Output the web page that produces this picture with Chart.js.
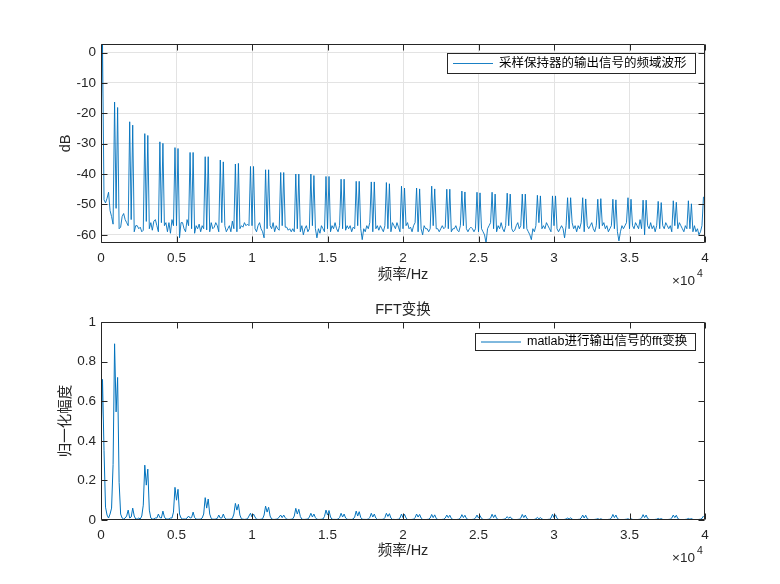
<!DOCTYPE html>
<html><head><meta charset="utf-8">
<script src="https://cdn.jsdelivr.net/npm/chart.js@4/dist/chart.umd.min.js"></script>
<style>
html,body{margin:0;padding:0;background:#fff;}
#wrap{position:relative;width:780px;height:584px;background:#fff;}
.c{position:absolute;left:0;width:780px;height:292px;}
</style></head><body>
<div id="wrap">
<div class="c" style="top:0"><canvas id="c1" width="780" height="292"></canvas></div>
<div class="c" style="top:292px"><canvas id="c2" width="780" height="292"></canvas></div>
</div>
<script>
// ---------- data ----------
const freqStepHz = 100;   // spacing of the spectrum samples
const spectrumDB = [
 -25, 2.8, -48.5, -49.5, -48, -46, -52, -54, -56.5, -16.3,
 -51.3, -18.1, -58, -57.5, -54, -53, -55, -56, -57, -22.8,
 -55, -23.9, -59, -57, -57, -58, -57.5, -59, -58.5, -26.7,
 -55.6, -27.3, -58, -56, -58.5, -55.5, -55, -57, -59, -29.4,
 -56, -29.9, -57, -56, -59, -56, -59.5, -55, -57, -31.3,
 -57, -31.6, -61, -56, -56, -58, -59, -55, -57, -32.9,
 -58, -32.9, -59.5, -57, -58, -56.5, -59, -57, -58, -34.3,
 -58.4, -34.3, -59, -56, -58, -57.5, -56, -57, -59, -35.4,
 -56, -36, -57, -59, -58, -57, -59, -55.5, -58, -36.7,
 -59, -36.5, -58, -57, -57.5, -56, -57, -56.5, -57, -37.5,
 -57, -37.5, -58, -59, -57, -56, -58, -59, -61, -38.6,
 -58, -38.6, -57, -58, -56, -59, -57, -58, -58.5, -39.5,
 -57, -39.5, -57.5, -57.5, -58.5, -58, -59, -58, -59, -40,
 -58, -40, -59, -57, -60, -58, -57, -59, -58, -40,
 -57, -40.5, -58, -61, -58, -59.5, -57, -58, -59, -40.8,
 -58, -40.8, -59, -57, -58, -56, -58, -59, -57, -41.7,
 -58, -41.7, -58.5, -57, -58, -57, -59, -57.5, -58, -42.4,
 -57, -42.4, -58, -61.6, -58, -59, -57, -58, -56, -42.6,
 -59, -42.6, -58, -57, -58.5, -57, -58, -59, -57, -42.8,
 -58, -43.2, -59, -56, -57, -58, -56, -57.5, -59, -44,
 -58, -44.6, -57, -56, -58, -57.5, -59, -57, -56, -44.6,
 -59, -44.9, -58, -60, -57, -58, -58, -59, -58, -44,
 -57, -44.9, -58, -58, -59, -58, -57, -58, -57.5, -45,
 -58, -45, -59, -58, -58, -57, -58.5, -59, -57, -45.6,
 -57, -45.9, -58, -59, -58, -57.5, -58, -59, -58, -46,
 -59, -46.2, -58, -59, -60, -62.7, -58, -57, -56, -46,
 -58, -46.6, -59, -57, -58, -56, -58, -59, -57, -46.3,
 -57, -46.6, -58, -59, -58.5, -57, -56, -58, -57, -46.6,
 -58, -46.6, -58, -59, -60, -61.6, -58, -59, -57, -47,
 -56, -47.2, -58, -57, -58, -56, -57, -58, -59, -47.2,
 -57, -47.2, -58, -59, -58, -57, -58, -61, -57, -47.8,
 -58, -47.8, -56, -58, -57, -59, -57, -58, -56, -47.8,
 -59, -48.2, -57, -58, -57, -56, -58, -59, -57, -48.3,
 -58, -48.1, -57, -56, -58, -57, -59, -58, -57, -48.3,
 -58, -48.5, -59, -62, -59, -57, -58, -57, -56, -47.8,
 -58, -48.3, -57, -58, -56, -57, -58, -55, -58, -48.6,
 -60, -48.6, -57, -58, -56, -58, -57, -59, -57, -49,
 -58, -49.4, -57, -58, -56, -57, -58, -57, -59, -48.8,
 -57, -49.3, -58, -56, -57, -58, -59, -57, -58, -48.8,
 -58, -49.8, -59, -57, -59, -58, -60, -59, -57, -47.5
];
const fftAmplitude = [
 0.40, 0.71, 0.35, 0.065, 0.025, 0.01, 0.03, 0.06, 0.28, 0.89,
 0.546, 0.72, 0.19, 0.03, 0.01, 0.005, 0.01, 0.02, 0.05, 0.01,
 0.015, 0.06, 0.02, 0.005, 0.005, 0.01, 0.005, 0.02, 0.075, 0.277,
 0.176, 0.257, 0.05, 0.01, 0.005, 0.005, 0.01, 0.01, 0.03, 0.012,
 0.01, 0.045, 0.015, 0.005, 0.005, 0.005, 0.01, 0.01, 0.04, 0.165,
 0.10, 0.155, 0.03, 0.01, 0.005, 0.005, 0.005, 0.01, 0.02, 0.01,
 0.012, 0.04, 0.012, 0.005, 0.004, 0.004, 0.005, 0.01, 0.03, 0.113,
 0.06, 0.106, 0.03, 0.008, 0.004, 0.004, 0.005, 0.008, 0.025, 0.01,
 0.01, 0.03, 0.01, 0.004, 0.004, 0.004, 0.005, 0.008, 0.03, 0.084,
 0.05, 0.079, 0.025, 0.006, 0.004, 0.003, 0.004, 0.006, 0.02, 0.034,
 0.015, 0.03, 0.015, 0.004, 0.003, 0.003, 0.004, 0.006, 0.025, 0.07,
 0.04, 0.064, 0.02, 0.005, 0.003, 0.003, 0.004, 0.006, 0.015, 0.025,
 0.012, 0.025, 0.012, 0.004, 0.003, 0.003, 0.004, 0.006, 0.02, 0.059,
 0.03, 0.054, 0.018, 0.004, 0.003, 0.003, 0.004, 0.005, 0.015, 0.034,
 0.015, 0.03, 0.012, 0.004, 0.003, 0.003, 0.004, 0.005, 0.018, 0.05,
 0.025, 0.048, 0.015, 0.004, 0.003, 0.003, 0.003, 0.005, 0.012, 0.034,
 0.015, 0.03, 0.01, 0.004, 0.003, 0.003, 0.003, 0.005, 0.015, 0.045,
 0.02, 0.042, 0.013, 0.004, 0.003, 0.003, 0.003, 0.005, 0.012, 0.034,
 0.015, 0.03, 0.01, 0.003, 0.003, 0.003, 0.003, 0.004, 0.012, 0.034,
 0.018, 0.032, 0.01, 0.003, 0.003, 0.002, 0.003, 0.004, 0.01, 0.03,
 0.012, 0.029, 0.01, 0.003, 0.002, 0.002, 0.003, 0.004, 0.012, 0.03,
 0.015, 0.028, 0.01, 0.003, 0.002, 0.002, 0.003, 0.004, 0.01, 0.028,
 0.012, 0.026, 0.008, 0.003, 0.002, 0.002, 0.003, 0.004, 0.01, 0.025,
 0.012, 0.024, 0.008, 0.003, 0.002, 0.002, 0.003, 0.004, 0.01, 0.027,
 0.012, 0.024, 0.008, 0.003, 0.002, 0.002, 0.003, 0.004, 0.01, 0.025,
 0.01, 0.022, 0.008, 0.003, 0.002, 0.002, 0.003, 0.004, 0.01, 0.029,
 0.012, 0.026, 0.008, 0.003, 0.002, 0.002, 0.003, 0.004, 0.008, 0.017,
 0.008, 0.016, 0.006, 0.003, 0.002, 0.002, 0.003, 0.004, 0.01, 0.028,
 0.012, 0.025, 0.008, 0.003, 0.002, 0.002, 0.002, 0.003, 0.006, 0.013,
 0.006, 0.012, 0.005, 0.002, 0.002, 0.002, 0.003, 0.004, 0.01, 0.029,
 0.012, 0.026, 0.008, 0.003, 0.002, 0.002, 0.002, 0.003, 0.005, 0.01,
 0.005, 0.011, 0.004, 0.002, 0.002, 0.002, 0.003, 0.004, 0.01, 0.025,
 0.01, 0.024, 0.007, 0.003, 0.002, 0.002, 0.002, 0.003, 0.004, 0.007,
 0.003, 0.006, 0.003, 0.002, 0.002, 0.002, 0.003, 0.004, 0.01, 0.028,
 0.012, 0.025, 0.008, 0.003, 0.002, 0.002, 0.002, 0.003, 0.004, 0.006,
 0.003, 0.006, 0.003, 0.002, 0.002, 0.002, 0.003, 0.004, 0.01, 0.027,
 0.012, 0.025, 0.008, 0.003, 0.002, 0.002, 0.002, 0.003, 0.004, 0.008,
 0.004, 0.007, 0.003, 0.002, 0.002, 0.002, 0.003, 0.004, 0.01, 0.025,
 0.012, 0.024, 0.007, 0.003, 0.002, 0.002, 0.002, 0.003, 0.004, 0.008,
 0.004, 0.007, 0.003, 0.002, 0.002, 0.002, 0.003, 0.004, 0.008, 0.02
];
const xTickValues = [0, 5000, 10000, 15000, 20000, 25000, 30000, 35000, 40000];
const xTickLabels = ['0', '0.5', '1', '1.5', '2', '2.5', '3', '3.5', '4'];
const yTicksTop = [-60, -50, -40, -30, -20, -10, 0];
const yTickLabelsTop = ['-60', '-50', '-40', '-30', '-20', '-10', '0'];
const yTicksBottom = [0, 0.2, 0.4, 0.6, 0.8, 1];
const yTickLabelsBottom = ['0', '0.2', '0.4', '0.6', '0.8', '1'];
const topLegend = '采样保持器的输出信号的频域波形';
const bottomLegend = 'matlab进行输出信号的fft变换';
const xAxisLabel = '频率/Hz';
const topYLabel = 'dB';
const bottomYLabel = '归一化幅度';
const bottomTitle = 'FFT变换';
const xExponent = '4';

// ---------- rendering ----------
const FONT = '"Liberation Sans", "Noto Sans CJK SC", Arial, sans-serif';
const AXC = '#262626';
const LINEC = '#0072BD';

function toPoints(vals) {
  return vals.map((v, i) => ({ x: i * freqStepHz, y: v }));
}

const matlabFrame = {
  id: 'matlabFrame',
  afterDatasetsDraw(chart, args, o) {
    const ctx = chart.ctx, a = chart.chartArea;
    const xs = chart.scales.x, ys = chart.scales.y;
    const L = Math.round(a.left) + 0.5, R = Math.round(a.right) - 0.5;
    const T = Math.round(a.top) + 0.5, B = Math.round(a.bottom) - 0.5;
    ctx.save();
    ctx.strokeStyle = AXC; ctx.lineWidth = 1;
    ctx.beginPath();
    ctx.rect(L, T, R - L, B - T);
    const tl = 6;
    xs.ticks.forEach(t => {
      const px = Math.round(xs.getPixelForValue(t.value)) + 0.5;
      ctx.moveTo(px, B); ctx.lineTo(px, B - tl);
      ctx.moveTo(px, T); ctx.lineTo(px, T + tl);
    });
    ys.ticks.forEach(t => {
      const py = Math.round(ys.getPixelForValue(t.value)) + 0.5;
      ctx.moveTo(L, py); ctx.lineTo(L + tl, py);
      ctx.moveTo(R, py); ctx.lineTo(R - tl, py);
    });
    ctx.stroke();

    ctx.fillStyle = AXC;
    // x label
    ctx.font = '14.5px ' + FONT;
    ctx.textAlign = 'center'; ctx.textBaseline = 'middle';
    ctx.fillText(o.xlabel, (a.left + a.right) / 2, a.bottom + o.xlabelDy);
    // exponent
    ctx.font = '13.5px ' + FONT;
    ctx.textAlign = 'left';
    ctx.fillText('\u00d710', a.right - 33, a.bottom + 38);
    ctx.font = '10.5px ' + FONT;
    ctx.fillText(o.exp, a.right - 8, a.bottom + 31);
    // y label
    ctx.save();
    ctx.translate(66, (a.top + a.bottom) / 2);
    ctx.rotate(-Math.PI / 2);
    ctx.font = '14.5px ' + FONT;
    ctx.textAlign = 'center'; ctx.textBaseline = 'middle';
    ctx.fillText(o.ylabel, 0, 0);
    ctx.restore();
    // title
    if (o.title) {
      ctx.font = '14.5px ' + FONT;
      ctx.textAlign = 'center'; ctx.textBaseline = 'middle';
      ctx.fillText(o.title, (a.left + a.right) / 2, a.top - 12.5);
    }
    // legend
    ctx.font = '12.5px ' + FONT;
    const tw = ctx.measureText(o.legend).width;
    const bw = Math.round(6 + 40 + 6 + tw + 8);
    const bx = Math.round(a.right) - 10 - bw;
    const by = Math.round(a.top) + o.legendDy;
    const bh = o.legendH;
    ctx.fillStyle = '#fff';
    ctx.fillRect(bx, by, bw, bh);
    ctx.strokeStyle = AXC; ctx.lineWidth = 1;
    ctx.strokeRect(bx + 0.5, by + 0.5, bw, bh);
    const my = by + bh / 2 + 0.5;
    const ds = chart.data.datasets[0];
    ctx.strokeStyle = ds.borderColor; ctx.lineWidth = ds.borderWidth;
    ctx.beginPath(); ctx.moveTo(bx + 6, my); ctx.lineTo(bx + 46, my); ctx.stroke();
    ctx.fillStyle = '#000';
    ctx.textAlign = 'left'; ctx.textBaseline = 'middle';
    ctx.fillText(o.legend, bx + 52, my);
    ctx.restore();
  }
};

function makeChart(id, vals, opt) {
  return new Chart(document.getElementById(id), {
    type: 'line',
    data: {
      datasets: [{
        data: toPoints(vals),
        borderColor: LINEC,
        borderWidth: opt.lw,
        pointRadius: 0,
        tension: 0,
        fill: false
      }]
    },
    options: {
      responsive: false,
      animation: false,
      events: [],
      layout: { padding: { top: opt.padTop, right: 75, bottom: 0, left: 0 } },
      plugins: {
        legend: { display: false },
        tooltip: { enabled: false },
        title: { display: false },
        matlabFrame: opt.frame
      },
      scales: {
        x: {
          type: 'linear', min: 0, max: 40000,
          afterFit: s => { s.height = opt.xAxisH; },
          afterBuildTicks: s => { s.ticks = xTickValues.map(v => ({ value: v })); },
          ticks: {
            autoSkip: false, maxRotation: 0, padding: 7,
            color: AXC, font: { family: FONT, size: 13.5 },
            callback: (v) => { const k = xTickValues.indexOf(v); return k >= 0 ? xTickLabels[k] : ''; }
          },
          grid: { display: opt.grid, drawTicks: false, color: '#e3e3e3', lineWidth: 1 },
          border: { display: false }
        },
        y: {
          type: 'linear', min: opt.ymin, max: opt.ymax,
          afterFit: s => { s.width = 101; },
          afterBuildTicks: s => { s.ticks = opt.yt.map(v => ({ value: v })); },
          ticks: {
            autoSkip: false, padding: 5,
            color: AXC, font: { family: FONT, size: 13.5 },
            callback: (v) => { const k = opt.yt.indexOf(v); return k >= 0 ? opt.yl[k] : ''; }
          },
          grid: { display: opt.grid, drawTicks: false, color: '#e3e3e3', lineWidth: 1 },
          border: { display: false }
        }
      }
    },
    plugins: [matlabFrame]
  });
}

makeChart('c1', spectrumDB, {
  lw: 0.9, padTop: 44, xAxisH: 49, ymin: -62.7, ymax: 2.8,
  yt: yTicksTop, yl: yTickLabelsTop, grid: true,
  frame: { xlabel: xAxisLabel, ylabel: topYLabel, exp: xExponent, title: null,
           legend: topLegend, legendDy: 9, legendH: 20, xlabelDy: 32 }
});
makeChart('c2', fftAmplitude, {
  lw: 1, padTop: 30, xAxisH: 64, ymin: 0, ymax: 1,
  yt: yTicksBottom, yl: yTickLabelsBottom, grid: false,
  frame: { xlabel: xAxisLabel, ylabel: bottomYLabel, exp: xExponent, title: bottomTitle,
           legend: bottomLegend, legendDy: 11, legendH: 17, xlabelDy: 31 }
});
</script>
</body></html>
